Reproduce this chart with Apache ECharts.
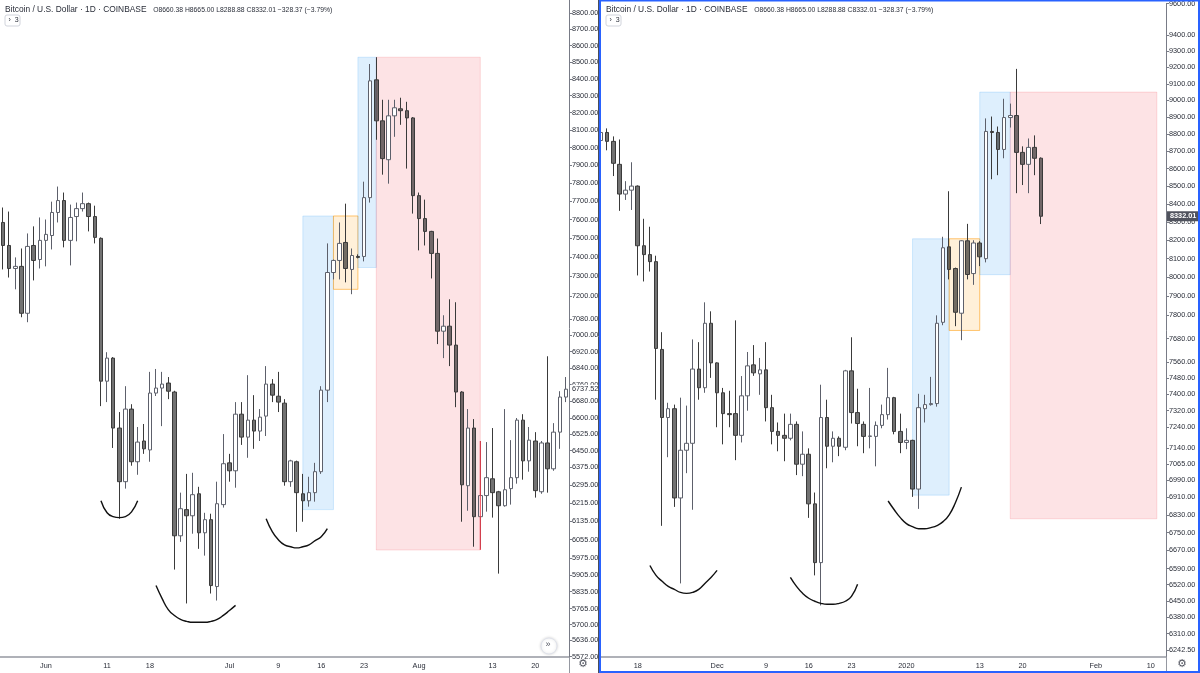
<!DOCTYPE html>
<html>
<head>
<meta charset="utf-8">
<title>BTCUSD 1D</title>
<script src="https://cdn.jsdelivr.net/npm/echarts@6/dist/echarts.min.js"></script>
<style>
  html, body { margin: 0; padding: 0; background: #fff; }
  #chart { width: 1200px; height: 673px; }
</style>
</head>
<body>
<div id="chart"></div>
<script>
// ---------- data ----------
const dayCount = 93;
const leftStart = '2018-05-25';
const rightStart = '2019-11-12';

const leftOpen = [7585,7462,7341,7352,7111,7462,7388,7489,7515,7639,7704,7489,7617,7660,7687,7617,7500,6776,6888,6554,6309,6643,6399,6494,6453,6719,6743,6767,6724,6071,6185,6158,6255,6084,6141,5856,6207,6394,6358,6619,6512,6591,6540,6610,6762,6704,6671,6309,6399,6255,6224,6260,6354,6733,7320,7383,7478,7336,7404,7404,7720,8394,8153,7931,8182,8223,8212,8170,7731,7606,7537,7420,7021,7046,6952,6724,6291,6554,6154,6247,6322,6264,6202,6278,6327,6591,6403,6494,6264,6485,6367,6535,6700];
const leftClose = [7462,7341,7352,7111,7457,7383,7489,7521,7639,7704,7489,7612,7660,7687,7617,7505,6776,6888,6554,6309,6643,6399,6489,6458,6719,6743,6762,6728,6071,6189,6158,6251,6084,6141,5860,6211,6390,6358,6619,6512,6591,6540,6605,6762,6709,6676,6309,6403,6260,6224,6260,6354,6733,7320,7383,7473,7341,7409,7399,7720,8388,8153,7937,8182,8229,8212,8170,7731,7606,7537,7420,7021,7046,6952,6724,6295,6554,6154,6247,6327,6260,6202,6273,6327,6591,6403,6498,6269,6485,6367,6535,6700,6737.52];
const leftLow = [7336,7294,7233,7091,7066,7279,7341,7352,7441,7585,7452,7357,7484,7644,7537,7473,6657,6676,6462,6145,6278,6381,6340,6435,6399,6705,6563,6690,5927,6045,5786,6080,6015,5986,5827,5798,6194,6309,6282,6476,6417,6458,6494,6517,6676,6629,6291,6286,6088,6132,6198,6220,6344,6676,7284,7284,7269,7208,7394,7378,7693,8044,7847,7797,8061,8130,7881,7633,7436,7462,7289,6957,6888,6849,6652,6132,6180,6024,6015,6176,6150,5910,6198,6207,6300,6318,6354,6238,6255,6260,6358,6458,6676];
const leftHigh = [7666,7644,7399,7446,7526,7564,7612,7601,7698,7781,7748,7682,7693,7748,7693,7676,7505,6917,6893,6629,6752,6666,6559,6573,6821,6835,6821,6796,6730,6260,6344,6349,6286,6171,6167,6309,6526,6435,6676,6676,6805,6709,6643,6849,6786,6821,6690,6408,6404,6344,6331,6394,6752,7473,7388,7585,7687,7446,7415,7808,8489,8530,8276,8276,8276,8288,8264,8175,7748,7709,7540,7499,7101,7182,7167,6728,6643,6596,6494,6489,6554,6268,6643,6498,6601,6619,6559,6535,6494,6897,6577,6728,6796];

const rightOpen = [8763,8810,8758,8625,8456,8478,8501,8170,8122,8084,7625,7287,7330,6907,7130,7163,7526,7433,7759,7557,7408,7306,7306,7201,7393,7547,7502,7522,7335,7220,7201,7187,7254,7064,7111,6880,6616,7287,7149,7187,7144,7517,7311,7254,7196,7196,7249,7301,7384,7220,7167,7177,6948,7330,7350,7355,7764,8164,8047,7811,8197,8020,8185,8100,8816,8810,8711,8898,8910,8694,8625,8723,8660.38];
const rightClose = [8810,8758,8631,8456,8478,8501,8170,8122,8084,7630,7287,7330,6907,7130,7163,7526,7433,7759,7557,7408,7306,7301,7201,7393,7542,7507,7522,7335,7220,7201,7187,7254,7064,7111,6880,6616,7287,7149,7187,7149,7517,7311,7258,7196,7198,7249,7301,7384,7220,7167,7177,6948,7335,7350,7355,7759,8159,8042,7816,8197,8015,8185,8110,8816,8810,8711,8898,8910,8694,8625,8723,8660,8332.01];
const rightLow = [8706,8706,8558,8362,8423,8367,8010,7978,8031,7374,6780,7097,6866,6525,7022,6853,7374,7408,7482,7240,7158,7240,7083,7167,7320,7492,7398,7268,7158,7125,7078,7177,7013,7008,6816,6560,6430,7045,7073,7102,7130,7258,7149,7116,7139,7054,7235,7277,7206,7116,7135,6912,6857,7263,7345,7340,7749,7989,7744,7672,7989,7960,8060,8080,8540,8563,8660,8839,8461,8507,8461,8563,8288.88];
const rightHigh = [8834,8834,8787,8769,8529,8637,8505,8318,8274,8116,7713,7359,7350,7384,7345,7676,7662,7868,7821,7560,7432,7418,7774,7491,7612,7647,7582,7662,7398,7263,7306,7306,7268,7220,7139,6932,7448,7374,7220,7196,7522,7687,7428,7268,7432,7268,7350,7532,7388,7306,7235,7180,7403,7398,7487,7800,8219,8472,8052,8200,8290,8200,8195,8893,8904,8845,9010,8981,9191,8729,8775,8793,8665];

// time axis labels
const leftTickDates = ['2018-06-01','2018-06-11','2018-06-18','2018-07-01','2018-07-09','2018-07-16','2018-07-23','2018-08-01','2018-08-13','2018-08-20'];
const leftTickText = ['Jun','11','18','Jul','9','16','23','Aug','13','20'];
const rightTickDates = ['2019-11-18','2019-12-01','2019-12-09','2019-12-16','2019-12-23','2020-01-01','2020-01-13','2020-01-20','2020-02-01','2020-02-10'];
const rightTickText = ['18','Dec','9','16','23','2020','13','20','Feb','10'];

// price axis labels
const leftPriceTicks = [8800,8700,8600,8500,8400,8300,8200,8100,8000,7900,7800,7700,7600,7500,7400,7300,7200,7080,7000,6920,6840,6760,6680,6600,6525,6450,6375,6295,6215,6135,6055,5975,5905,5835,5765,5700,5636,5572];
const rightPriceTicks = [9600,9400,9300,9200,9100,9000,8900,8800,8700,8600,8500,8400,8300,8200,8100,8000,7900,7800,7680,7560,7480,7400,7320,7240,7140,7065,6990,6910,6830,6750,6670,6590,6520,6450,6380,6310,6242.5];
const leftLast = 6737.52;
const rightLast = 8332.01;

// drawn boxes: [fromBar, toBar, topPrice, bottomPrice, kind]
const leftBoxes = [[49,54,7620,6185,'blue'],[54,58,7620,7233,'orange'],[58,61,8530,7346,'blue'],[61,78,8530,6010,'pink']];
const rightBoxes = [[51,57,8208,6920,'blue'],[57,62,8208,7722,'orange'],[62,67,9050,8014,'blue'],[67,91,9050,6812,'pink']];
const leftRedMark = [[78,6494],[78,6010]];

// hand drawn arcs: [bar, price]
const leftArcs = [
  [[16,6224],[17,6171],[18,6154],[19,6150],[20,6154],[21,6175],[22,6224]],
  [[25,5860],[26,5806],[27,5761],[28,5737],[29,5721],[30,5713],[31,5709],[32,5709],[33,5709],[34,5713],[35,5721],[36,5737],[37,5757],[38,5778]],
  [[43,6145],[44,6089],[45,6054],[46,6032],[47,6024],[48,6019],[49,6024],[50,6032],[51,6050],[52,6067],[53,6102]]
];
const rightArcs = [
  [[8,6603],[9,6560],[10,6534],[11,6512],[12,6499],[13,6486],[14,6482],[15,6486],[16,6499],[17,6525],[18,6551],[19,6582]],
  [[31,6551],[32,6512],[33,6482],[34,6461],[35,6448],[36,6439],[37,6435],[38,6435],[39,6439],[40,6448],[41,6469],[42,6521]],
  [[47,6893],[48,6853],[49,6817],[50,6790],[51,6776],[52,6767],[53,6767],[54,6772],[55,6781],[56,6799],[57,6830],[58,6884],[59,6957]]
];

// ---------- helpers ----------
const font = 'Liberation Sans, Arial, sans-serif';
const textColor = '#2a2e39';

function dayRange(start, n) {
  const t0 = Date.parse(start + 'T00:00:00Z');
  const out = [];
  for (let i = 0; i < n; i++) out.push(new Date(t0 + i * 86400000).toISOString().slice(0, 10));
  return out;
}

const boxStyle = {
  blue: { color: 'rgba(33,150,243,0.15)', borderColor: 'rgba(33,150,243,0.18)', borderWidth: 1 },
  orange: { color: 'rgba(255,152,0,0.15)', borderColor: 'rgba(255,152,0,0.55)', borderWidth: 1 },
  pink: { color: 'rgba(242,54,69,0.14)', borderColor: 'rgba(242,54,69,0.16)', borderWidth: 1 }
};

function timeAxis(gridIndex, dates, tickDates, tickText) {
  const show = (idx, val) => tickDates.indexOf(val) >= 0;
  return {
    type: 'category', gridIndex, data: dates, boundaryGap: true,
    axisLine: { lineStyle: { color: '#9598a1', width: 1.5 } },
    axisTick: { interval: show, alignWithLabel: true, length: 3, lineStyle: { color: '#787b86' } },
    axisLabel: { interval: show, formatter: v => tickText[tickDates.indexOf(v)], fontSize: 7.3, color: textColor, margin: 5, fontFamily: font },
    splitLine: { show: false }
  };
}

function priceAxis(gridIndex, min, max, ticks) {
  return {
    type: 'log', gridIndex, position: 'right', min, max,
    axisLine: { show: true, lineStyle: { color: '#787b86' } },
    axisTick: { show: true, customValues: ticks, length: 3, lineStyle: { color: '#787b86' } },
    axisLabel: { customValues: ticks, formatter: v => Number(v).toFixed(2), fontSize: 7.3, color: textColor, margin: 3, fontFamily: font },
    splitLine: { show: false }, minorTick: { show: false }
  };
}

function lastPriceLabel(idx, last, boxed) {
  return {
    type: 'line', xAxisIndex: idx, yAxisIndex: idx, data: [], z: 20, silent: true,
    markLine: {
      silent: true, symbol: ['none', 'none'], animation: false,
      lineStyle: { color: 'rgba(0,0,0,0)', width: 0 },
      data: [{ yAxis: last }],
      label: boxed
        ? { show: true, position: 'end', formatter: last.toFixed(2), color: '#fff', backgroundColor: '#50535e', fontSize: 7.3, fontWeight: 'bold', padding: [2, 3, 1, 3], distance: 1, fontFamily: font }
        : { show: true, position: 'end', formatter: last.toFixed(2), color: textColor, backgroundColor: '#fff', fontSize: 7.3, padding: [1, 2, 1, 1], distance: 2, fontFamily: font }
    }
  };
}

function panelSeries(idx, open, close, low, high, boxes, arcs) {
  const s = [];
  s.push({
    type: 'line', xAxisIndex: idx, yAxisIndex: idx, data: [], z: 1, silent: true,
    markArea: {
      silent: true,
      data: boxes.map(b => [
        { coord: [b[0], b[2]], itemStyle: boxStyle[b[4]] },
        { coord: [b[1], b[3]] }
      ])
    }
  });
  s.push({
    type: 'candlestick', xAxisIndex: idx, yAxisIndex: idx, z: 2, barWidth: 4,
    data: open.map((o, i) => [o, close[i], low[i], high[i]]),
    itemStyle: { color: '#ffffff', color0: 'rgba(20,20,20,0.6)', borderColor: '#5d606b', borderColor0: '#3a3a3a', borderWidth: 1 }
  });
  arcs.forEach(a => s.push({
    type: 'line', xAxisIndex: idx, yAxisIndex: idx, data: a, smooth: 0.5, showSymbol: false, z: 4, silent: true,
    lineStyle: { color: '#111', width: 1.4 }
  }));
  return s;
}

const leftDates = dayRange(leftStart, dayCount);
const rightDates = dayRange(rightStart, dayCount);

const series = [
  ...panelSeries(0, leftOpen, leftClose, leftLow, leftHigh, leftBoxes, leftArcs),
  ...panelSeries(1, rightOpen, rightClose, rightLow, rightHigh, rightBoxes, rightArcs),
  { type: 'line', xAxisIndex: 0, yAxisIndex: 0, data: leftRedMark, showSymbol: false, z: 3, silent: true, lineStyle: { color: '#f23645', width: 1 } },
  lastPriceLabel(0, leftLast, false),
  lastPriceLabel(1, rightLast, true)
];

function header(x) {
  return {
    type: 'text', x: x, y: 4, z: 100,
    style: {
      text: '{n|Bitcoin / U.S. Dollar · 1D · COINBASE}  {v|O8660.38 H8665.00 L8288.88 C8332.01 −328.37 (−3.79%)}',
      rich: {
        n: { fontSize: 8.4, fill: textColor, fontFamily: font },
        v: { fontSize: 6.8, fill: textColor, fontFamily: font }
      }
    }
  };
}
function collapse(x) {
  return {
    type: 'group', x: x, y: 15, z: 100, children: [
      { type: 'rect', shape: { x: 0, y: 0, width: 15, height: 11, r: 2 }, style: { fill: '#fff', stroke: '#d1d4dc', lineWidth: 1 } },
      { type: 'text', x: 3.5, y: 2, style: { text: '›  3', fontSize: 7, fill: textColor, fontFamily: font } }
    ]
  };
}

const option = {
  backgroundColor: '#ffffff',
  animation: false,
  grid: [
    { left: 0, top: 0, width: 569, height: 657 },
    { left: 598, top: 0, width: 568, height: 657 }
  ],
  xAxis: [timeAxis(0, leftDates, leftTickDates, leftTickText), timeAxis(1, rightDates, rightTickDates, rightTickText)],
  yAxis: [priceAxis(0, 5570, 8884, leftPriceTicks), priceAxis(1, 6213, 9600, rightPriceTicks)],
  series: series,
  graphic: [
    header(5), header(606), collapse(5), collapse(606),
    { type: 'line', z: 90, shape: { x1: 569.5, y1: 657, x2: 569.5, y2: 673 }, style: { stroke: '#9598a1', lineWidth: 1 } },
    { type: 'line', z: 90, shape: { x1: 1166.5, y1: 657, x2: 1166.5, y2: 673 }, style: { stroke: '#9598a1', lineWidth: 1 } },
    { type: 'line', z: 90, shape: { x1: 598.5, y1: 0, x2: 598.5, y2: 673 }, style: { stroke: '#4a4e59', lineWidth: 1 } },
    { type: 'rect', z: 95, shape: { x: 600, y: 0.5, width: 599, height: 671.5 }, style: { fill: 'none', stroke: '#2962ff', lineWidth: 2 } },
    { type: 'text', z: 90, x: 578, y: 659, style: { text: '⚙', fontSize: 11, fill: '#50535e', fontFamily: 'DejaVu Sans' } },
    { type: 'text', z: 90, x: 1177, y: 659, style: { text: '⚙', fontSize: 11, fill: '#50535e', fontFamily: 'DejaVu Sans' } },
    { type: 'group', x: 549, y: 646, z: 90, children: [
      { type: 'circle', shape: { cx: 0, cy: 0, r: 8 }, style: { fill: '#fff', stroke: '#e0e3eb', lineWidth: 1, shadowBlur: 3, shadowColor: 'rgba(0,0,0,0.15)' } },
      { type: 'text', x: -3.5, y: -5.5, style: { text: '»', fontSize: 9, fill: '#50535e', fontFamily: font } }
    ] }
  ]
};

const chart = echarts.init(document.getElementById('chart'), null, { renderer: 'canvas' });
chart.setOption(option);
</script>
</body>
</html>
